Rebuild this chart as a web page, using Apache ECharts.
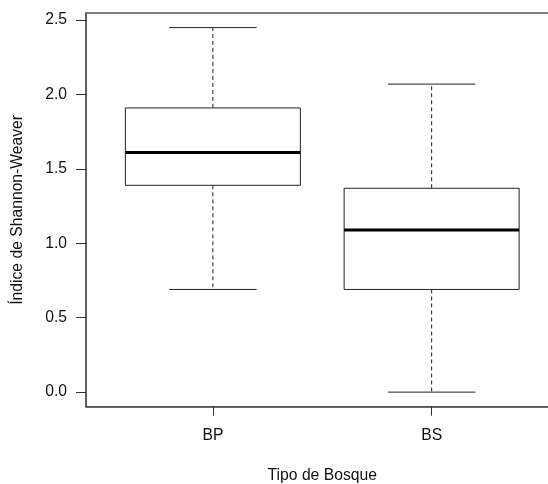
<!DOCTYPE html>
<html>
<head>
<meta charset="utf-8">
<script src="https://cdn.jsdelivr.net/npm/echarts@6/dist/echarts.min.js"></script>
<style>
html,body{margin:0;padding:0;background:#fff;}
#chart{width:548px;height:484px;}
</style>
</head>
<body>
<div id="chart"></div>
<script>
const categories = ['BP', 'BS'];
const minVals = [0.69, 0.0];
const q1Vals = [1.39, 0.69];
const medianVals = [1.61, 1.09];
const q3Vals = [1.91, 1.37];
const maxVals = [2.45, 2.07];
const yTicks = [0.0, 0.5, 1.0, 1.5, 2.0, 2.5];

const boxData = categories.map((c, i) => [i + 1, minVals[i], q1Vals[i], medianVals[i], q3Vals[i], maxVals[i]]);
const xPositions = categories.map((c, i) => i + 1);

const FONT = 'Liberation Sans, Arial, sans-serif';
const AXIS_COLOR = '#555';
const TEXT_COLOR = '#111';
const LINE_COLOR = '#222';

const chart = echarts.init(document.getElementById('chart'), null, {renderer: 'canvas'});

function renderItem(params, api) {
  const x = api.value(0);
  const pMin = api.coord([x, api.value(1)]);
  const pQ1 = api.coord([x, api.value(2)]);
  const pMed = api.coord([x, api.value(3)]);
  const pQ3 = api.coord([x, api.value(4)]);
  const pMax = api.coord([x, api.value(5)]);
  const halfW = api.size([0.8, 0])[0] / 2;
  const capHalf = halfW / 2;
  const cx = pMed[0];
  const solid = {stroke: LINE_COLOR, lineWidth: 1, fill: null};
  const dashed = {stroke: LINE_COLOR, lineWidth: 1, lineDash: [4, 3], fill: null};
  return {
    type: 'group',
    children: [
      {type: 'line', shape: {x1: cx, y1: pQ3[1], x2: cx, y2: pMax[1]}, style: dashed},
      {type: 'line', shape: {x1: cx, y1: pQ1[1], x2: cx, y2: pMin[1]}, style: dashed},
      {type: 'line', shape: {x1: cx - capHalf, y1: pMax[1], x2: cx + capHalf, y2: pMax[1]}, style: solid},
      {type: 'line', shape: {x1: cx - capHalf, y1: pMin[1], x2: cx + capHalf, y2: pMin[1]}, style: solid},
      {type: 'rect', shape: {x: cx - halfW, y: pQ3[1], width: 2 * halfW, height: pQ1[1] - pQ3[1]},
        style: {stroke: LINE_COLOR, lineWidth: 1, fill: '#fff'}},
      {type: 'line', shape: {x1: cx - halfW, y1: pMed[1], x2: cx + halfW, y2: pMed[1]},
        style: {stroke: '#000', lineWidth: 3, fill: null}}
    ]
  };
}

chart.setOption({
  animation: false,
  backgroundColor: '#fff',
  grid: {
    left: 86, top: 13, width: 472.5, height: 393.7,
    show: true, borderColor: AXIS_COLOR, borderWidth: 1.5, backgroundColor: 'transparent',
    containLabel: false, outerBoundsMode: 'none'
  },
  xAxis: {
    type: 'value', min: 0.42, max: 2.58, position: 'bottom',
    splitLine: {show: false},
    axisLine: {show: true, onZero: false, lineStyle: {color: AXIS_COLOR, width: 1.5}},
    axisTick: {show: true, inside: false, length: 9, customValues: xPositions, lineStyle: {color: '#333'}},
    axisLabel: {
      show: true, customValues: xPositions, margin: 21,
      formatter: v => categories[Math.round(v) - 1] || '',
      color: TEXT_COLOR, fontFamily: FONT, fontSize: 15.7
    },
    name: 'Tipo de Bosque', nameLocation: 'middle', nameGap: 61,
    nameTextStyle: {color: TEXT_COLOR, fontFamily: FONT, fontSize: 15.7}
  },
  yAxis: {
    type: 'value', min: -0.098, max: 2.548, position: 'left',
    splitLine: {show: false},
    axisLine: {show: true, onZero: false, lineStyle: {color: AXIS_COLOR, width: 1.5}},
    axisTick: {show: true, inside: false, length: 10, customValues: yTicks, lineStyle: {color: '#333'}},
    axisLabel: {
      show: true, customValues: yTicks, margin: 19,
      formatter: v => Number(v).toFixed(1),
      color: TEXT_COLOR, fontFamily: FONT, fontSize: 15.7
    },
    name: 'Índice de Shannon-Weaver', nameLocation: 'middle', nameGap: 60, nameRotate: 90,
    nameTextStyle: {color: TEXT_COLOR, fontFamily: FONT, fontSize: 15.7}
  },
  series: [{
    type: 'custom',
    renderItem: renderItem,
    encode: {x: 0, y: [1, 2, 3, 4, 5]},
    data: boxData,
    clip: false
  }]
});
</script>
</body>
</html>
